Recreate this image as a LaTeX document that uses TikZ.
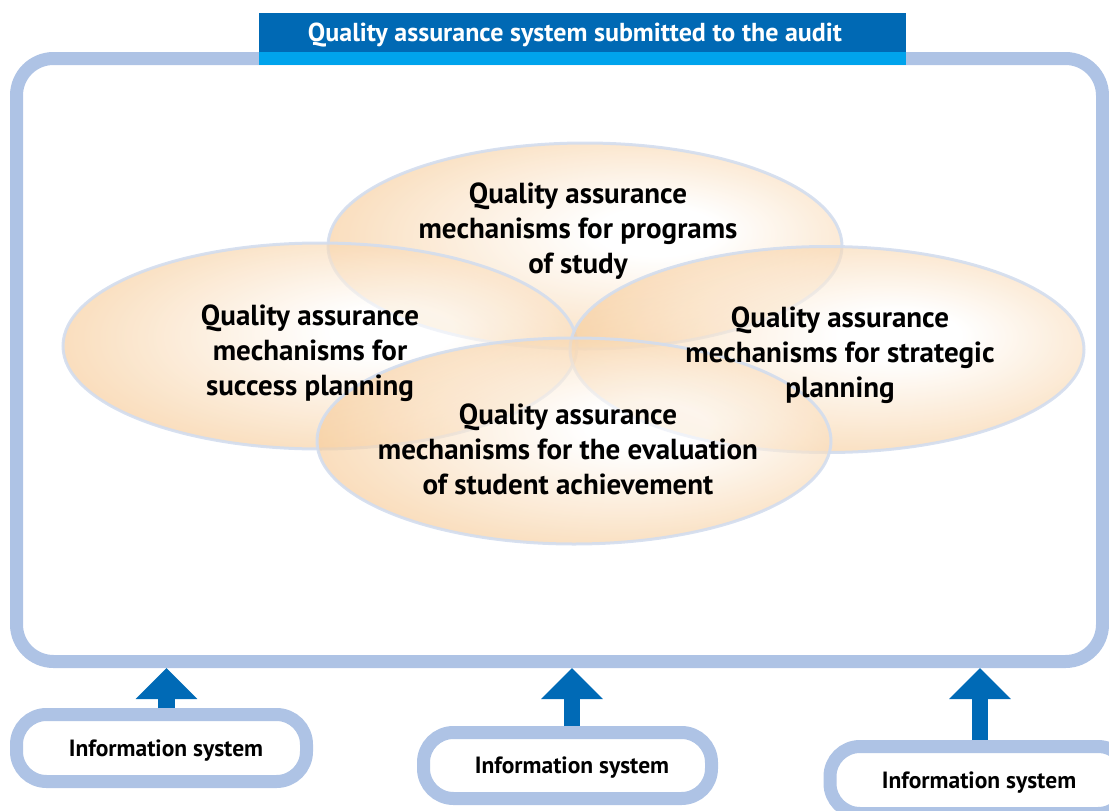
\documentclass[tikz,border=0pt]{standalone}
\usepackage{fontspec}
\setmainfont{PT Sans}
\usetikzlibrary{arrows.meta,shapes.geometric}
\definecolor{frameblue}{HTML}{AEC3E5}
\definecolor{headdark}{HTML}{0069B4}
\definecolor{headlight}{HTML}{00A3EC}
\definecolor{arrowblue}{HTML}{006AB6}
\definecolor{peach}{HTML}{F6C994}
\definecolor{rimblue}{HTML}{D3DDEE}
\pgfdeclareradialshading{orb}{\pgfpoint{8bp}{4bp}}{color(0bp)=(white); color(6bp)=(white); color(30bp)=(peach); color(34bp)=(peach!70!white); color(50bp)=(white)}
\begin{document}
\begin{tikzpicture}[x=1pt,y=-1pt,
  petal/.style={ellipse, minimum width=514, minimum height=206, shade, shading=orb, fill opacity=0.65, draw=rimblue, line width=3, draw opacity=0.9, inner sep=0},
  petaltext/.style={font=\bfseries\fontsize{29}{35}\selectfont, align=center, text=black},
  frame/.style={draw=frameblue, line width=13, rounded corners=37},
  infobox/.style={draw=frameblue, line width=13, fill=white, rounded corners=30},
  infotext/.style={font=\bfseries\fontsize{23.5}{26}\selectfont, text=black},
  headbar/.style={inner sep=0, minimum width=647},
  uparrow/.style={draw=arrowblue, line width=16.5, -{Triangle[width=60pt, length=31pt]}}]
\useasboundingbox (0,0) rectangle (1109,811);
\node[frame, minimum width=1086, minimum height=603] (frame) at (559.5,360) {};
\node[headbar, fill=headdark, minimum height=39] (head) at (582.5,32.5) {};
\node[text=white, font=\bfseries\fontsize{26}{28}\selectfont] (headtext) at (575,35) {Quality assurance system submitted to the audit};
\node[headbar, fill=headlight, minimum height=13] (headband) at (582.5,58.5) {};
\node[petal] (prog) at (585,246) {};
\node[petal] (succ) at (320,346) {};
\node[petal] (strat) at (827,349.5) {};
\node[petal] (eval) at (574,441) {};
\node[petaltext] (progtext) at (578,231) {Quality assurance\\mechanisms for programs\\of study};
\node[petaltext] (succtext) at (310,353) {Quality assurance\\mechanisms for\\success planning};
\node[petaltext] (strattext) at (840,355) {Quality assurance\\mechanisms for strategic\\planning};
\node[petaltext] (evaltext) at (568,449) {Quality assurance\\mechanisms for the evaluation\\of student achievement};
\node[infobox, minimum width=290, minimum height=67] (info1) at (161.5,748) {};
\node[infobox, minimum width=288, minimum height=66] (info2) at (567.5,765.5) {};
\node[infobox, minimum width=298, minimum height=67] (info3) at (979,780) {};
\node[infotext] (info1text) at (166,751) {Information system};
\node[infotext] (info2text) at (572,768) {Information system};
\node[infotext] (info3text) at (979,783) {Information system};
\draw[uparrow] ([xshift=5]info1.north) -- ([xshift=5]info1.north |- frame.south);
\draw[uparrow] ([xshift=4.5]info2.north) -- ([xshift=4.5]info2.north |- frame.south);
\draw[uparrow] ([xshift=1]info3.north) -- ([xshift=1]info3.north |- frame.south);
\end{tikzpicture}
\end{document}
